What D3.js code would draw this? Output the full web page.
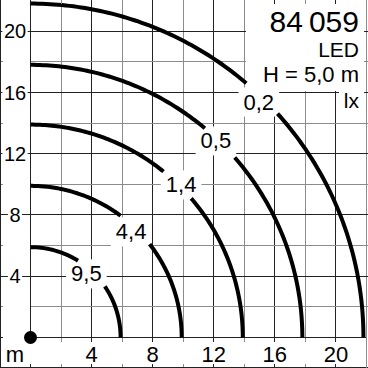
<!DOCTYPE html>
<html>
<head>
<meta charset="utf-8">
<script src="https://cdn.jsdelivr.net/npm/d3@7"></script>
<style>
    html, body { margin: 0; padding: 0; background: #fff; }
    #chart { width: 368px; height: 368px; }
    text { font-family: "Liberation Sans", Arial, sans-serif; fill: #000; }
</style>
</head>
<body>
<div id="chart"></div>
<script>
    // data
    var isoRadii  = [5.9, 9.9, 13.9, 17.8, 21.8];       // m
    var isoLabels = ['9,5', '4,4', '1,4', '0,5', '0,2'];  // lx
    var xTickLabels = [4, 8, 12, 16, 20];
    var yTickLabels = [4, 8, 12, 16, 20];
    var gridSteps = [0, 2, 4, 6, 8, 10, 12, 14, 16, 18, 20, 22];
    var infoLines = ['84\u2009059', 'LED', 'H = 5,0 m', 'lx'];

    // where the labels sit (in metres) and the angular gap cut in each curve
    var labelPos = [[3.66, 4.18], [6.59, 6.92], [9.86, 9.99], [12.14, 12.86], [14.95, 15.40]];
    var gapDeg   = [[34.4, 58.2], [38.0, 53.4], [40.8, 51.2], [41.3, 50.1], [42.1, 49.6]];

    var W = 368, H = 368;
    var svg = d3.select('#chart')
        .append('svg')
            .attr('width', W)
            .attr('height', H)
    ;

    var x = d3.scaleLinear().domain([0, 22]).range([30.5, 366.5]);
    var y = d3.scaleLinear().domain([0, 22]).range([337.5, 0.5]);

    var major = '#222', minor = '#8c8c8c';
    function col(v) { return v % 4 === 0 ? major : minor; }

    // grid
    var grid = svg.append('g').attr('shape-rendering', 'crispEdges');
    grid.selectAll('line.v')
        .data(gridSteps)
        .enter().append('line')
            .attr('x1', function(d) { return x(d) }).attr('x2', function(d) { return x(d) })
            .attr('y1', 0).attr('y2', y(0))
            .attr('stroke', col)
    ;
    grid.selectAll('line.h')
        .data(gridSteps.filter(function(d) { return d < 22 }))
        .enter().append('line')
            .attr('y1', function(d) { return y(d) }).attr('y2', function(d) { return y(d) })
            .attr('x1', x(0)).attr('x2', x(22))
            .attr('stroke', col)
    ;

    // left margin ticks
    grid.selectAll('line.lt')
        .data(gridSteps.filter(function(d) { return d < 22 }))
        .enter().append('line')
            .attr('y1', function(d) { return y(d) }).attr('y2', function(d) { return y(d) })
            .attr('x1', 0)
            .attr('x2', function(d) { return yTickLabels.indexOf(d) >= 0 ? x(0) : 3 })
            .attr('stroke', col)
    ;
    // bottom margin ticks
    grid.selectAll('line.bt')
        .data(gridSteps)
        .enter().append('line')
            .attr('x1', function(d) { return x(d) }).attr('x2', function(d) { return x(d) })
            .attr('y1', y(0)).attr('y2', y(0) + 4)
            .attr('stroke', col)
    ;
    grid.selectAll('line.bb')
        .data(gridSteps)
        .enter().append('line')
            .attr('x1', function(d) { return x(d) }).attr('x2', function(d) { return x(d) })
            .attr('y1', H - 4).attr('y2', H)
            .attr('stroke', col)
    ;

    // text with a white patch behind it
    function boxedText(g, tx, ty, str, size, anchor, padX, padY) {
        var bg = g.append('rect').attr('fill', '#fff');
        var t = g.append('text')
            .attr('x', tx).attr('y', ty)
            .attr('dy', '0.36em')
            .attr('text-anchor', anchor)
            .style('font-size', size + 'px')
            .text(str);
        var b = t.node().getBBox();
        bg.attr('x', b.x - padX).attr('y', b.y - padY)
          .attr('width', b.width + padX * 2).attr('height', b.height + padY * 2);
        return t;
    }

    // axis labels
    var axisG = svg.append('g');
    yTickLabels.forEach(function(v) {
        boxedText(axisG, 15, y(v), v, 20, 'middle', 1.5, -3);
    });
    xTickLabels.forEach(function(v) {
        axisG.append('text')
            .attr('x', x(v)).attr('y', 362)
            .attr('text-anchor', 'middle')
            .style('font-size', '22px')
            .text(v);
    });
    axisG.append('text')
        .attr('x', 15).attr('y', 362)
        .attr('text-anchor', 'middle')
        .style('font-size', '22px')
        .text('m');

    // info block, top right
    var info = svg.append('g');
    info.append('rect').attr('x', 246).attr('y', 0).attr('width', 121).attr('height', 91).attr('fill', '#fff');
    info.append('rect').attr('x', 339).attr('y', 91).attr('width', 28).attr('height', 22).attr('fill', '#fff');
    var infoSize = [30, 21, 22, 21];
    var infoBase = [31.5, 57.3, 81.7, 108.3];
    infoLines.forEach(function(s, i) {
        info.append('text')
            .attr('x', 359).attr('y', infoBase[i])
            .attr('text-anchor', 'end')
            .style('font-size', infoSize[i] + 'px')
            .text(s);
    });

    // isolux labels
    var lblG = svg.append('g');
    isoLabels.forEach(function(s, i) {
        boxedText(lblG, x(labelPos[i][0]), y(labelPos[i][1]), s, 22, 'middle', 5, 2);
    });

    // isolux curves: quarter circles around the light, split at the label
    var line = d3.line()
        .x(function(a) { return a[0] })
        .y(function(a) { return a[1] });
    function arcPts(r, a0, a1) {
        var pts = [];
        var n = 60;
        for (var k = 0; k <= n; k++) {
            var a = (a0 + (a1 - a0) * k / n) * Math.PI / 180;
            pts.push([x(r * Math.cos(a)), y(r * Math.sin(a))]);
        }
        return pts;
    }
    var segs = [];
    isoRadii.forEach(function(r, i) {
        segs.push(arcPts(r, 0, gapDeg[i][0]));
        segs.push(arcPts(r, gapDeg[i][1], 90));
    });
    svg.append('g')
        .selectAll('path')
        .data(segs)
        .enter().append('path')
            .attr('d', line)
            .attr('fill', 'none')
            .attr('stroke', '#000')
            .attr('stroke-width', 4)
    ;

    // frame and edge ticks
    var frame = svg.append('g').attr('shape-rendering', 'crispEdges');
    frame.append('line').attr('x1', 0.5).attr('x2', 0.5).attr('y1', 0).attr('y2', H).attr('stroke', major);
    frame.append('line').attr('x1', 0).attr('x2', W).attr('y1', H - 0.5).attr('y2', H - 0.5).attr('stroke', major);
    frame.append('line').attr('x1', x(22)).attr('x2', x(22)).attr('y1', 0).attr('y2', H).attr('stroke', minor);
    frame.selectAll('line.tt')
        .data(gridSteps.filter(function(d) { return d > 0 && d < 22 }))
        .enter().append('line')
            .attr('x1', function(d) { return x(d) }).attr('x2', function(d) { return x(d) })
            .attr('y1', 0).attr('y2', 4)
            .attr('stroke', col)
    ;
    frame.selectAll('line.rt')
        .data(gridSteps.filter(function(d) { return d > 0 && d < 22 }))
        .enter().append('line')
            .attr('y1', function(d) { return y(d) }).attr('y2', function(d) { return y(d) })
            .attr('x1', W - 4).attr('x2', W)
            .attr('stroke', col)
    ;

    // light position
    svg.append('circle')
        .attr('cx', x(0)).attr('cy', y(0))
        .attr('r', 6.5)
        .attr('fill', '#000');
</script>
</body>
</html>
